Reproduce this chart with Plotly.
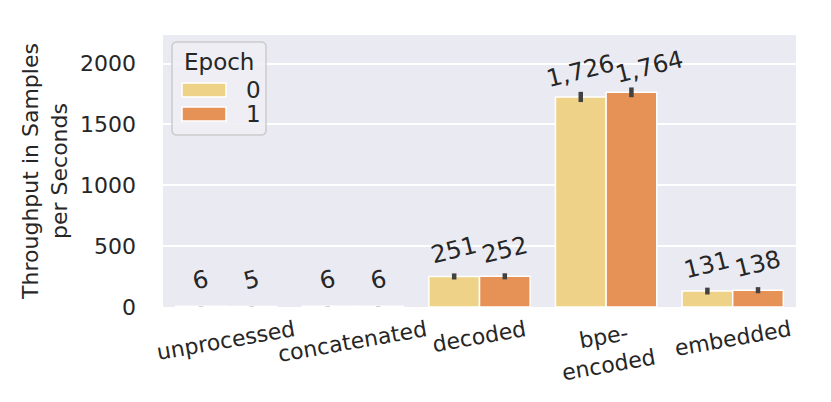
import plotly.graph_objects as go

categories = ["unprocessed", "concatenated", "decoded", "bpe-<br>encoded", "embedded"]
epochs = ["0", "1"]
values_e0 = [6, 6, 251, 1726, 131]
values_e1 = [5, 6, 252, 1764, 138]
err_e0 = [1, 1, 25, 42, 28]
err_e1 = [1, 1, 25, 40, 25]
colors = ["#EED287", "#E69256"]
y_ticks = [0, 500, 1000, 1500, 2000]

FONT = "DejaVu Sans"
FS = 22
OFF = 8                      # page body margin of the generated html
PW, PH = 831, 402            # page size
W, H = PW - OFF, PH - OFF    # figure size
# plot area in page pixels
L, R, T, B = 163, 796, 35, 307

def px_x(p):
    return (p - L) / (R - L)

def px_y(p):
    return (B - p) / (B - T)

fig = go.Figure()
for name, vals, errs, col in zip(epochs, [values_e0, values_e1], [err_e0, err_e1], colors):
    fig.add_trace(go.Bar(
        x=list(range(len(categories))), y=vals, name=name, offsetgroup=name,
        marker=dict(color=col, line=dict(color="white", width=1.5)),
        error_y=dict(type="data", array=errs, visible=True, thickness=4.5, width=0, color="#424242"),
        showlegend=False,
    ))

# small manual nudges of overlapping value labels: (category, epoch) -> (xshift, yshift)
label_nudge = {(3, 1): (18, -1)}

annotations = []
for i, cat in enumerate(categories):
    for j, vals in enumerate([values_e0, values_e1]):
        dx, dy = label_nudge.get((i, j), (0, 0))
        annotations.append(dict(
            x=i + (-0.2 if j == 0 else 0.2), xref="x", y=vals[i], yref="y",
            text=f"{vals[i]:,}", showarrow=False, textangle=-14,
            yanchor="middle", xanchor="center", yshift=26 + dy, xshift=dx,
            font=dict(family=FONT, size=24, color="#262626"),
        ))
    # category labels (rotated about their centre)
    annotations.append(dict(
        x=i, xref="x", y=px_y(314), yref="paper", text=cat, showarrow=False,
        textangle=-10, xanchor="center", yanchor="top",
        font=dict(family=FONT, size=FS, color="#262626"),
    ))

# manual legend
lx0, ly0, lx1, ly1 = 172, 42, 266, 135
r = 5
pts = [("M", lx0 + r, ly0), ("L", lx1 - r, ly0), ("Q", lx1, ly0, lx1, ly0 + r),
       ("L", lx1, ly1 - r), ("Q", lx1, ly1, lx1 - r, ly1), ("L", lx0 + r, ly1),
       ("Q", lx0, ly1, lx0, ly1 - r), ("L", lx0, ly0 + r), ("Q", lx0, ly0, lx0 + r, ly0)]
segs = []
for p in pts:
    cmd, coords = p[0], p[1:]
    s = [cmd]
    for k in range(0, len(coords), 2):
        s.append(f"{px_x(coords[k]):.5f},{px_y(coords[k+1]):.5f}")
    segs.append(" ".join(s))
path = " ".join(segs) + " Z"

shapes = [dict(type="path", xref="paper", yref="paper", path=path,
               fillcolor="rgba(238,238,244,0.9)", line=dict(color="#CCCCCC", width=1.5), layer="above")]
for lab, col, (py0, py1) in zip(epochs, colors, [(83, 97), (107, 121)]):
    shapes.append(dict(type="rect", xref="paper", yref="paper",
                       x0=px_x(182), x1=px_x(226), y0=px_y(py1), y1=px_y(py0),
                       fillcolor=col, line=dict(color="white", width=1.5), layer="above"))
    annotations.append(dict(x=px_x(263), y=px_y((py0 + py1) / 2), xref="paper", yref="paper",
                            text=lab, showarrow=False, xanchor="right", yanchor="middle",
                            font=dict(family=FONT, size=23, color="#262626")))
annotations.append(dict(x=px_x(219), y=px_y(62), xref="paper", yref="paper", text="Epoch",
                        showarrow=False, xanchor="center", yanchor="middle",
                        font=dict(family=FONT, size=23, color="#262626")))

fig.update_layout(
    width=W, height=H,
    margin=dict(l=L - OFF, r=PW - R, t=T - OFF, b=PH - B, autoexpand=False),
    paper_bgcolor="white", plot_bgcolor="#EAEAF2",
    barmode="group", bargap=0.2, bargroupgap=0,
    font=dict(family=FONT, size=FS, color="#262626"),
    annotations=annotations, shapes=shapes,
    xaxis=dict(showgrid=False, showticklabels=False, ticks="", automargin=False,
               range=[-0.5, len(categories) - 0.5], showline=False, zeroline=False),
    yaxis=dict(range=[0, 2235], tickvals=y_ticks, ticktext=[str(v) for v in y_ticks],
               gridcolor="white", gridwidth=1.5, zeroline=False, ticks="", ticklabelstandoff=26,
               automargin=False,
               tickfont=dict(family=FONT, size=FS, color="#262626"),
               title=dict(text="Throughput in Samples<br>per Seconds", standoff=6,
                          font=dict(family=FONT, size=FS, color="#262626"))),
)

fig.write_html("out.html")
